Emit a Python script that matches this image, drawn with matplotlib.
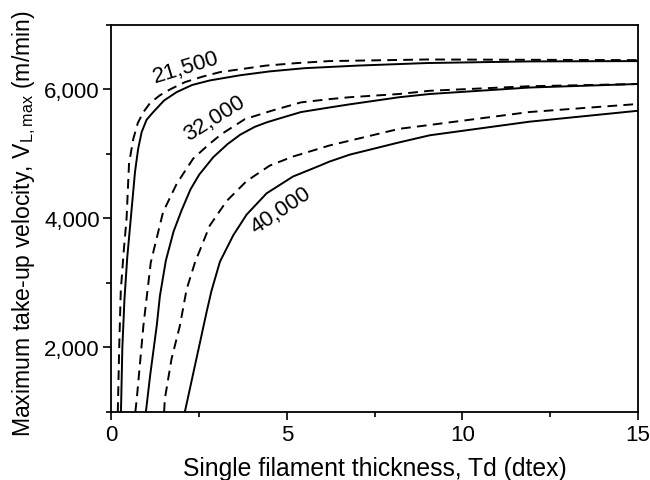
import matplotlib
matplotlib.use('Agg')
import matplotlib.pyplot as plt
from matplotlib.ticker import MultipleLocator, FuncFormatter

plt.rcParams['font.family'] = ['Liberation Sans', 'DejaVu Sans']
plt.rcParams['mathtext.fontset'] = 'custom'
plt.rcParams['mathtext.rm'] = 'Liberation Sans'
plt.rcParams['lines.scale_dashes'] = False

# filament thickness Td (dtex) vs max take-up velocity (m/min)
td_21500_solid = [0.27, 0.31, 0.37, 0.45, 0.55, 0.67, 0.76, 0.86, 1.0, 1.19, 1.5, 1.86, 2.3, 2.8, 3.66, 4.5, 5.5, 7.0, 9.0, 11.9, 15.0]
v_21500_solid = [1000, 2000, 2750, 3400, 4000, 4720, 5080, 5340, 5530, 5650, 5830, 5960, 6070, 6140, 6220, 6280, 6330, 6370, 6410, 6435, 6440]

td_21500_dash = [0.18, 0.22, 0.265, 0.35, 0.43, 0.5, 0.62, 0.75, 0.91, 1.1, 1.38, 1.7, 2.1, 2.6, 3.1, 4.4, 5.3, 6.2, 9.0, 12.0, 15.0]
v_21500_dash = [1000, 2000, 2880, 3500, 4000, 4850, 5230, 5480, 5650, 5790, 5910, 6010, 6115, 6200, 6270, 6370, 6410, 6440, 6465, 6460, 6455]

td_32000_solid = [0.98, 1.1, 1.29, 1.38, 1.55, 1.77, 2.0, 2.25, 2.5, 2.9, 3.3, 3.67, 4.08, 4.42, 4.72, 5.4, 6.2, 6.79, 8.2, 9.07, 11.9, 15.0]
v_32000_solid = [1000, 1560, 2340, 2800, 3350, 3800, 4130, 4450, 4680, 4950, 5150, 5300, 5420, 5490, 5540, 5650, 5720, 5770, 5880, 5930, 6030, 6085]

td_32000_dash = [0.68, 0.72, 0.91, 1.12, 1.47, 1.86, 2.33, 2.8, 3.14, 3.8, 4.56, 5.4, 6.2, 6.79, 8.2, 9.07, 11.9, 15.0]
v_32000_dash = [1000, 1200, 2340, 3320, 4100, 4540, 4930, 5160, 5310, 5540, 5670, 5800, 5850, 5880, 5930, 5980, 6050, 6085]

td_40000_solid = [2.09, 2.33, 2.47, 2.71, 2.85, 3.09, 3.47, 3.85, 4.42, 5.17, 5.94, 6.2, 6.79, 8.2, 9.07, 11.9, 15.0]
v_40000_solid = [1000, 1600, 1950, 2550, 2880, 3330, 3740, 4060, 4390, 4650, 4820, 4880, 4990, 5180, 5290, 5500, 5670]

td_40000_dash = [1.5, 1.52, 1.71, 1.95, 2.14, 2.38, 2.8, 3.28, 3.85, 4.51, 5.17, 5.84, 6.2, 8.2, 9.07, 11.9, 15.0]
v_40000_dash = [1000, 1200, 1820, 2340, 2900, 3320, 3890, 4270, 4580, 4820, 4960, 5070, 5130, 5390, 5450, 5650, 5775]

labels = ['21,500', '32,000', '40,000']
label_td = [2.13, 2.92, 4.84]
label_v = [6357, 5566, 4140]
label_rot = [17, 32, 34]

fig = plt.figure(figsize=(6.5, 4.81), dpi=100)
ax = fig.add_axes([0.1715, 0.1414, 0.81, 0.8046])

solids = [(td_21500_solid, v_21500_solid), (td_32000_solid, v_32000_solid), (td_40000_solid, v_40000_solid)]
dashes = [(td_21500_dash, v_21500_dash), (td_32000_dash, v_32000_dash), (td_40000_dash, v_40000_dash)]
for x, y in solids:
    ax.plot(x, y, color='black', lw=1.4)
for x, y in dashes:
    ax.plot(x, y, color='black', lw=1.4, dashes=[7, 4.5])

for lab, x, y, r in zip(labels, label_td, label_v, label_rot):
    ax.text(x, y, lab, rotation=r, ha='center', va='center', fontsize=16,
            rotation_mode='anchor')

ax.set_xlim(0, 15)
ax.set_ylim(1000, 7000)
ax.xaxis.set_major_locator(MultipleLocator(5))
ax.xaxis.set_minor_locator(MultipleLocator(2.5))
ax.yaxis.set_major_locator(MultipleLocator(2000))
ax.yaxis.set_minor_locator(MultipleLocator(1000))
ax.yaxis.set_major_formatter(FuncFormatter(lambda v, p: '' if v < 2000 else f'{int(v):,}'))
ax.tick_params(which='both', direction='out', top=False, right=False, labelsize=16, width=1.2, pad=2.5)
ax.tick_params(which='major', length=6)
ax.tick_params(which='minor', length=3.5)
for s in ax.spines.values():
    s.set_linewidth(1.3)

ax.set_xlabel('Single filament thickness, Td (dtex)', fontsize=17.8, labelpad=8)
ax.set_ylabel(r'Maximum take-up velocity, V$_{\mathrm{L, max}}$ (m/min)', fontsize=16.6)
ax.yaxis.set_label_coords(-0.14, 0.49)

plt.savefig('out.png', dpi=100)
